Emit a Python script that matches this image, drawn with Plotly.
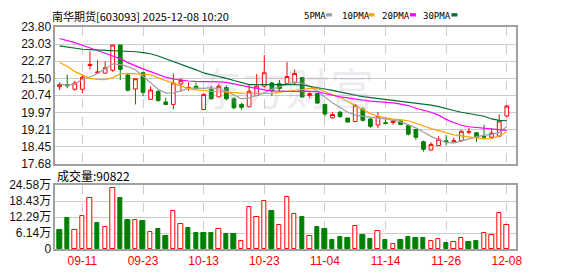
import plotly.graph_objects as go

W, H = 578, 276

dates = ["09-08","09-09","09-10","09-11","09-12","09-15","09-16","09-17","09-18","09-19",
         "09-22","09-23","09-24","09-25","09-26","09-29","09-30","10-09","10-10","10-13",
         "10-14","10-15","10-16","10-17","10-20","10-21","10-22","10-23","10-24","10-27",
         "10-28","10-29","10-30","10-31","11-03","11-04","11-05","11-06","11-07","11-10",
         "11-11","11-12","11-13","11-14","11-17","11-18","11-19","11-20","11-21","11-24",
         "11-25","11-26","11-27","11-28","12-01","12-02","12-03","12-04","12-05","12-08"]

open_ = [21.12,21.21,21.01,21.01,22.07,21.74,21.73,21.86,22.99,21.65,
         21.02,21.75,20.56,20.91,20.44,20.33,21.25,21.05,21.14,20.10,
         21.01,20.67,21.09,20.58,20.33,20.23,20.73,21.15,21.29,21.26,
         21.26,21.29,21.53,20.73,20.82,20.33,19.73,19.98,19.72,19.56,
         20.12,19.68,19.41,19.51,19.52,19.59,19.38,19.21,18.66,18.29,
         18.49,18.70,18.66,18.71,19.09,19.06,18.90,18.86,18.91,19.81]
high = [21.32,21.67,21.38,21.65,22.71,22.31,22.26,22.99,22.99,21.72,
        21.50,21.79,21.14,20.98,20.63,21.72,21.51,21.32,21.31,20.83,
        21.18,21.26,21.18,20.66,20.40,21.22,21.69,22.54,21.34,21.43,
        22.23,21.89,21.56,20.87,20.84,20.33,19.98,20.05,19.73,20.35,
        20.20,19.71,19.99,19.76,19.64,19.65,19.42,19.21,18.71,18.63,
        18.91,18.95,18.84,19.17,19.28,19.10,19.42,19.28,19.88,20.30]
low = [20.98,21.05,20.95,20.83,21.90,21.73,21.73,21.79,21.43,20.91,
       20.33,20.70,20.56,20.47,20.33,20.12,20.90,20.94,21.05,20.07,
       20.56,20.66,20.51,20.12,20.10,20.19,20.70,21.08,20.70,20.92,
       21.22,21.26,20.66,20.61,20.36,19.79,19.71,19.73,19.54,19.55,
       19.56,19.28,19.28,19.48,19.42,19.41,18.94,18.74,18.22,18.28,
       18.47,18.50,18.64,18.66,19.00,18.66,18.77,18.81,18.88,19.76]
close = [21.22,21.17,21.29,21.55,22.12,21.78,21.97,22.99,21.90,20.97,
         21.48,20.87,20.98,20.50,20.33,21.29,21.41,21.09,21.05,20.78,
         20.58,21.15,20.58,20.18,20.20,20.92,21.15,21.75,20.94,21.04,
         21.58,21.72,20.66,20.82,20.39,19.90,19.88,19.79,19.54,20.29,
         19.62,19.35,19.79,19.48,19.59,19.43,19.00,18.86,18.32,18.54,
         18.77,18.66,18.70,19.13,19.11,18.85,18.87,19.05,19.59,20.26]

ma5 = [21.25,21.18,21.25,21.45,21.55,21.72,21.93,22.14,22.11,22.02,
       21.88,21.58,21.29,21.01,20.84,20.85,20.94,21.06,21.06,21.05,
       21.08,21.02,20.92,20.75,20.58,20.62,20.72,20.85,21.01,21.12,
       21.25,21.34,21.28,21.15,20.92,20.65,20.40,20.19,19.98,19.85,
       19.79,19.76,19.73,19.69,19.63,19.56,19.42,19.28,19.10,18.90,
       18.75,18.63,18.60,18.70,18.80,18.88,18.96,18.98,19.08,19.34]
ma10 = [22.21,22.04,21.80,21.65,21.50,21.45,21.44,21.53,21.70,21.72,
        21.70,21.69,21.66,21.52,21.40,21.30,21.15,21.04,20.98,20.94,
        20.92,20.90,20.87,20.85,20.84,20.83,20.83,20.82,20.82,20.88,
        20.91,20.94,21.00,21.05,21.05,20.90,20.76,20.64,20.46,20.28,
        20.10,19.92,19.80,19.73,19.67,19.64,19.60,19.49,19.36,19.25,
        19.16,19.05,18.97,18.92,18.87,18.83,18.79,18.80,18.92,19.10]
ma20 = [23.28,23.20,23.10,22.98,22.85,22.74,22.62,22.50,22.38,22.20,
        22.05,21.92,21.80,21.66,21.55,21.47,21.42,21.38,21.36,21.36,
        21.35,21.34,21.32,21.25,21.18,21.10,21.04,20.98,20.94,20.92,
        20.91,20.91,20.93,20.92,20.90,20.82,20.74,20.67,20.62,20.56,
        20.52,20.48,20.46,20.44,20.40,20.34,20.28,20.16,20.08,19.98,
        19.85,19.66,19.52,19.40,19.33,19.30,19.26,19.22,19.19,19.17]
ma30 = [22.95,22.90,22.84,22.80,22.78,22.77,22.76,22.75,22.74,22.72,
        22.69,22.65,22.60,22.50,22.38,22.25,22.13,22.00,21.88,21.74,
        21.66,21.60,21.50,21.40,21.30,21.22,21.22,21.22,21.23,21.24,
        21.24,21.22,21.20,21.15,21.08,21.02,20.96,20.90,20.82,20.75,
        20.68,20.64,20.60,20.56,20.51,20.47,20.44,20.38,20.33,20.30,
        20.23,20.16,20.06,19.98,19.92,19.87,19.80,19.68,19.62,19.60]

# volume in 万 (10k)
volume = [7.32,12.07,7.20,12.69,19.64,9.88,8.29,23.29,19.75,10.97,
          11.22,10.61,6.46,7.68,5.12,14.51,9.75,8.05,6.22,6.22,
          6.22,7.56,5.85,5.85,3.29,16.10,12.44,18.53,14.63,9.14,
          20.12,13.42,12.44,5.12,8.41,7.68,3.66,4.75,4.39,8.78,
          5.49,4.02,6.95,3.66,2.07,3.66,4.75,4.39,4.39,2.93,
          3.90,2.19,2.56,4.27,2.56,3.29,6.10,5.37,13.78,9.08]
vol_up = [0,0,1,1,1,0,1,1,0,0,1,0,1,0,0,1,1,0,0,0,
          0,1,0,0,1,1,1,1,0,1,1,1,0,1,0,0,0,0,0,1,
          0,0,1,0,1,0,0,0,0,1,1,0,1,1,0,0,1,1,1,1]

price_ticks = [17.68,18.45,19.21,19.97,20.74,21.50,22.27,23.03,23.80]
price_labels = ["17.68","18.45","19.21","19.97","20.74","21.50","22.27","23.03","23.80"]
vol_ticks = [0,6.14,12.29,18.43,24.58]
vol_labels = ["0","6.14万","12.29万","18.43万","24.58万"]
date_tick_labels = ["09-11","09-23","10-13","10-23","11-04","11-14","11-26","12-08"]

title_text = "南华期货[603093] 2025-12-08 10:20"
vol_title = "成交量:90822"
legend_names = ["5PMA","10PMA","20PMA","30PMA"]

RED = "#ff0000"
GREEN = "#008000"
MA_COLORS = ["#a0a0a0", "#ffa500", "#ff00ff", "#006e32"]

idx = list(range(len(dates)))
tick_idx = [dates.index(d) for d in date_tick_labels]

def px_x(px):
    return px / W

def px_y(py):
    return 1 - py / H

fig = go.Figure()

fig.add_trace(go.Candlestick(
    x=idx, open=open_, high=high, low=low, close=close,
    increasing=dict(line=dict(color=RED, width=1), fillcolor="#ffffff"),
    decreasing=dict(line=dict(color=GREEN, width=1), fillcolor=GREEN),
    whiskerwidth=0, xaxis="x", yaxis="y", showlegend=False, hoverinfo="skip"))

for ma, col in zip([ma5, ma10, ma20, ma30], MA_COLORS):
    fig.add_trace(go.Scatter(x=idx, y=ma, mode="lines",
                             line=dict(color=col, width=1.2),
                             xaxis="x", yaxis="y", showlegend=False, hoverinfo="skip"))

vol_fill = ["#ffffff" if u else GREEN for u in vol_up]
vol_line = [RED if u else GREEN for u in vol_up]
fig.add_trace(go.Bar(x=idx, y=volume, width=0.58,
                     marker=dict(color=vol_fill, line=dict(color=vol_line, width=1)),
                     xaxis="x2", yaxis="y2", showlegend=False, hoverinfo="skip"))

xrange = [-0.57, len(dates) - 1 + 1.17]
xdom = [px_x(56), px_x(522)]
axis_common = dict(showline=True, linecolor="#a0a0a0", linewidth=1.5, mirror=True,
                   zeroline=False, fixedrange=True)

fig.update_layout(
    width=W, height=H,
    margin=dict(l=0, r=0, t=0, b=0),
    paper_bgcolor="#ffffff", plot_bgcolor="#ffffff",
    bargap=0,
    xaxis=dict(domain=xdom, range=xrange, tickvals=tick_idx, showticklabels=False,
               showgrid=True, gridcolor="#cccccc", griddash="dash", gridwidth=1,
               rangeslider=dict(visible=False), anchor="y", ticks="", **axis_common),
    yaxis=dict(domain=[px_y(165), px_y(21)], range=[price_ticks[0], price_ticks[-1]],
               tickvals=price_ticks, ticktext=price_labels,
               showgrid=True, gridcolor="#cccccc", gridwidth=1, ticks="",
               tickfont=dict(family="Liberation Sans, Arial", size=12, color="#111111"),
               anchor="x", **axis_common),
    xaxis2=dict(domain=xdom, range=xrange, tickvals=tick_idx, ticktext=date_tick_labels,
                showgrid=True, gridcolor="#cccccc", griddash="dash", gridwidth=1, ticks="",
                tickfont=dict(family="Liberation Sans, Arial", size=12, color=RED),
                anchor="y2", **axis_common),
    yaxis2=dict(domain=[px_y(255), px_y(187.5)], range=[vol_ticks[0], vol_ticks[-1]],
                tickvals=vol_ticks, ticktext=vol_labels,
                showgrid=True, gridcolor="#cccccc", gridwidth=1, ticks="",
                tickfont=dict(family="Liberation Sans, Noto Sans CJK SC", size=12, color="#111111"),
                anchor="x2", **axis_common),
)

annotations = [
    dict(text=title_text, x=px_x(51), y=px_y(9), xref="paper", yref="paper",
         xanchor="left", yanchor="middle", showarrow=False,
         font=dict(family="Noto Sans CJK SC", size=11, color="#000000")),
    dict(text=vol_title, x=px_x(56), y=px_y(178), xref="paper", yref="paper",
         xanchor="left", yanchor="middle", showarrow=False,
         font=dict(family="Noto Sans CJK SC", size=12, color="#000000")),
    dict(text="东方财富", x=px_x(290), y=px_y(84), xref="paper", yref="paper",
         xanchor="center", yanchor="middle", showarrow=False,
         font=dict(family="Noto Sans CJK SC", size=44, color="rgba(170,170,190,0.22)")),
]
shapes = []
leg_x = [306, 344, 385, 426]
sq_x = [330, 373, 415, 457]
for name, lx, sx, col in zip(legend_names, leg_x, sq_x, MA_COLORS):
    annotations.append(dict(text=name, x=px_x(lx), y=px_y(9), xref="paper", yref="paper",
                            xanchor="left", yanchor="middle", showarrow=False,
                            font=dict(family="DejaVu Sans Mono", size=9, color="#000000")))
    shapes.append(dict(type="rect", xref="paper", yref="paper",
                       x0=px_x(sx), x1=px_x(sx + 6), y0=px_y(10), y1=px_y(6.5),
                       fillcolor=col, line=dict(width=0)))

fig.update_layout(annotations=annotations, shapes=shapes)

fig.write_html("out.html")
